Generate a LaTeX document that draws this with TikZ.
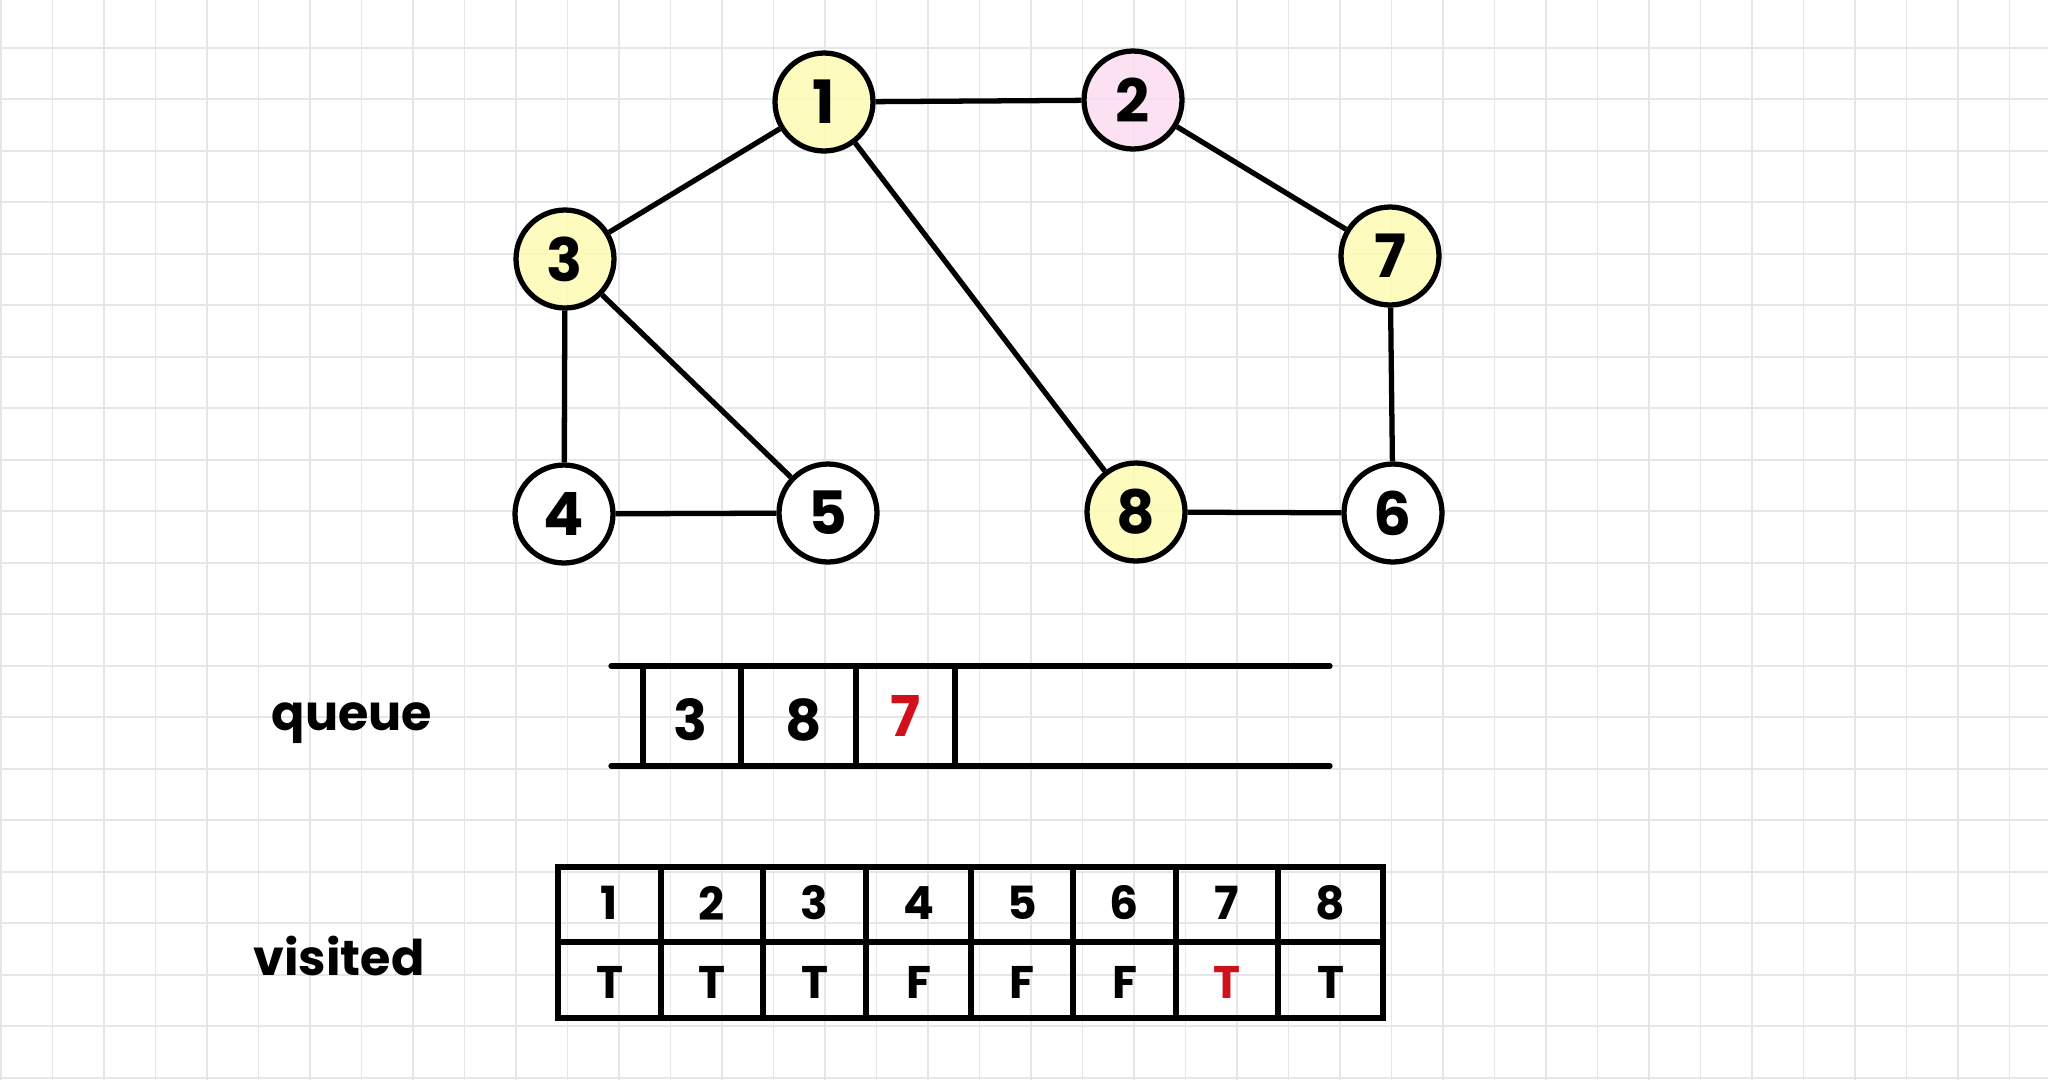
\documentclass[tikz,border=0pt]{standalone}
\usepackage{fontspec}
\setmainfont{Poppins}
\definecolor{gridgray}{HTML}{E5E6EA}
\definecolor{vyellow}{HTML}{FDFBB2}
\definecolor{vpink}{HTML}{FBDCEF}
\definecolor{hred}{HTML}{D0101A}
\begin{document}
\begin{tikzpicture}[x=0.02cm,y=-0.02cm,
  gridline/.style={draw=gridgray,line width=1.1pt},
  vert/.style={circle,draw=black,line width=3pt,minimum size=1.96cm,inner sep=0pt,
    font=\fontsize{34}{34}\selectfont\bfseries},
  plainv/.style={vert,fill=white},
  yellowv/.style={vert,fill=vyellow,fill opacity=0.85,text opacity=1},
  pinkv/.style={vert,fill=vpink,fill opacity=0.85,text opacity=1},
  conn/.style={line width=3pt},
  tline/.style={line width=3pt,line cap=round},
  qtext/.style={inner sep=0pt,font=\fontsize{32}{32}\selectfont\bfseries},
  ctext/.style={inner sep=0pt,font=\fontsize{26}{26}\selectfont\bfseries},
  label/.style={inner sep=0pt,anchor=base,font=\fontsize{28}{28}\selectfont\bfseries}
]
\useasboundingbox (0,0) rectangle (2048,1080);
\fill[white] (0,0) rectangle (2048,1080);
\foreach \i in {0,...,39} \draw[gridline] ({1+51.5*\i},0) -- ({1+51.5*\i},1080);
\foreach \j in {0,...,20} \draw[gridline] (0,{47.7+51.5*\j}) -- (2048,{47.7+51.5*\j});

% graph
\node[yellowv] (n1) at (824,102) {1};
\node[pinkv]   (n2) at (1133,100) {2};
\node[yellowv] (n3) at (565,259) {3};
\node[yellowv] (n7) at (1390,256) {7};
\node[plainv]  (n4) at (564,514) {4};
\node[plainv]  (n5) at (828,513) {5};
\node[yellowv] (n8) at (1136,512) {8};
\node[plainv]  (n6) at (1393,513) {6};

\draw[conn] (n1) -- (n2);
\draw[conn] (n1) -- (n3);
\draw[conn] (n1) -- (n8);
\draw[conn] (n2) -- (n7);
\draw[conn] (n3) -- (n4);
\draw[conn] (n3) -- (n5);
\draw[conn] (n4) -- (n5);
\draw[conn] (n8) -- (n6);
\draw[conn] (n7) -- (n6);

% queue
\node[label] (qlab) at (352,730) {queue};
\draw[tline] (611,666) -- (1330,666);
\draw[tline] (611,766) -- (1330,766);
\foreach \x in {643,741,856,955} \draw[conn] (\x,668) -- (\x,764);
\node[qtext] (q1) at (690,720) {3};
\node[qtext] (q2) at (804,720) {8};
\node[qtext,text=hred] (q3) at (906,716) {7};

% visited
\node[label] (vlab) at (339,975) {visited};
\draw[tline,line cap=butt] (558,867) rectangle (1383,1018);
\draw[conn] (558,942) -- (1383,942);
\foreach \x in {661,763,866,971,1073,1176,1278} \draw[conn] (\x,867) -- (\x,1018);
\foreach \c/\x in {1/609.5,2/712,3/814.5,4/918.5,5/1022,6/1124.5,7/1227,8/1330.5}
  \node[ctext] (k\c) at (\x,903) {\c};
\foreach \c/\x/\v in {1/609.5/T,2/712/T,3/814.5/T,4/918.5/F,5/1022/F,6/1124.5/F,8/1330.5/T}
  \node[ctext] (b\c) at (\x,982) {\v};
\node[ctext,text=hred] (b7) at (1227,982) {T};
\end{tikzpicture}
\end{document}
